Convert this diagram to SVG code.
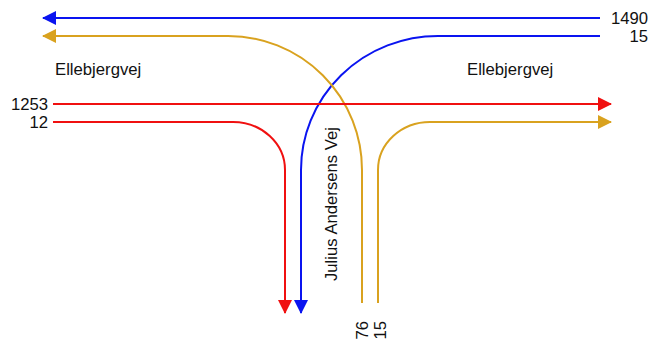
<svg xmlns="http://www.w3.org/2000/svg" width="652" height="347" viewBox="0 0 652 347">
<defs>
<style>
.ln{fill:none;stroke-width:2}
.b{stroke:#0a14f0}.r{stroke:#f01010}.g{stroke:#d9a21f}
text{font-family:"Liberation Sans",Arial,sans-serif;font-size:16.7px;fill:#111}
</style>
<marker id="ab" viewBox="0 0 14 14" refX="13" refY="7" markerWidth="14" markerHeight="14" markerUnits="userSpaceOnUse" orient="auto"><path d="M0,0L14,7L0,14z" fill="#0a14f0"/></marker>
<marker id="ar" viewBox="0 0 14 14" refX="13" refY="7" markerWidth="14" markerHeight="14" markerUnits="userSpaceOnUse" orient="auto"><path d="M0,0L14,7L0,14z" fill="#f01010"/></marker>
<marker id="ag" viewBox="0 0 14 14" refX="13" refY="7" markerWidth="14" markerHeight="14" markerUnits="userSpaceOnUse" orient="auto"><path d="M0,0L14,7L0,14z" fill="#d9a21f"/></marker>
</defs>
<rect width="652" height="347" fill="#fff"/>
<g id="connectors">
<path class="ln b" d="M600,18H43" marker-end="url(#ab)"/>
<path class="ln b" d="M600,36H438A137,134 0 0 0 301,170V313" marker-end="url(#ab)"/>
<path class="ln g" d="M362,303V170A134,134 0 0 0 228,36H43" marker-end="url(#ag)"/>
<path class="ln r" d="M53,104H611" marker-end="url(#ar)"/>
<path class="ln r" d="M53,122H233A52,48 0 0 1 285,170V313" marker-end="url(#ar)"/>
<path class="ln g" d="M378,303V170A52,48 0 0 1 430,122H611" marker-end="url(#ag)"/>
</g>
<g id="labels">
<text x="648" y="24" text-anchor="end">1490</text>
<text x="648" y="42" text-anchor="end">15</text>
<text x="48" y="110" text-anchor="end">1253</text>
<text x="48" y="128" text-anchor="end">12</text>
<text x="55" y="75">Ellebjergvej</text>
<text x="467" y="75">Ellebjergvej</text>
<text transform="translate(337,281) rotate(-90)">Julius Andersens Vej</text>
<text transform="translate(368,321) rotate(-90)" text-anchor="end">76</text>
<text transform="translate(386,321) rotate(-90)" text-anchor="end">15</text>
</g>
</svg>
